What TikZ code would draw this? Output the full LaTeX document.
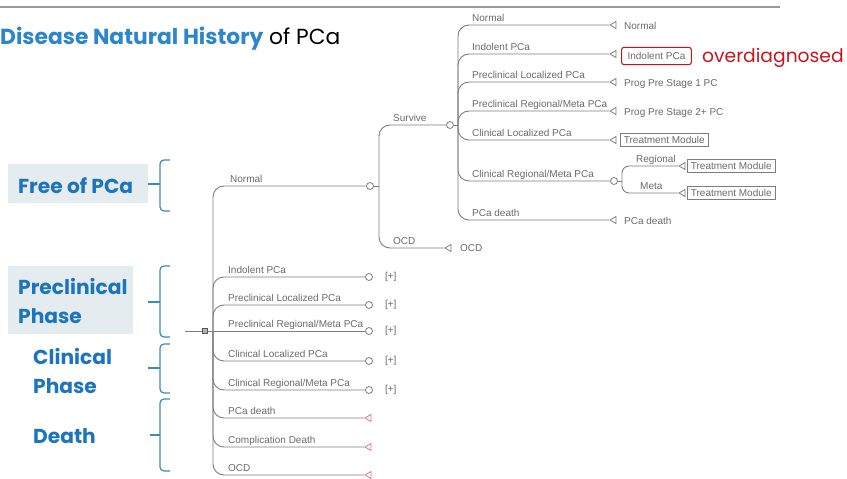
\documentclass[tikz,border=0pt]{standalone}
\usepackage{fontspec}
\setmainfont{Liberation Sans}
\newfontfamily\gfont{Poppins}
\usetikzlibrary{shapes.geometric}

\definecolor{titleblue}{HTML}{2B86CC}
\definecolor{labblue}{HTML}{1C74BC}
\definecolor{boxfill}{HTML}{E4ECEF}
\definecolor{bracecol}{HTML}{3C8CB8}
\definecolor{treeline}{HTML}{7E7E7E}
\definecolor{treetext}{HTML}{6A6A6A}
\definecolor{deathcol}{HTML}{D87890}
\definecolor{overred}{HTML}{C4161C}

\tikzset{
  br/.style={draw=treeline, line width=0.9pt, rounded corners=11pt},
  stem/.style={draw=treeline, line width=0.9pt},
  lbl/.style={anchor=base west, font=\fontsize{10}{11}\selectfont, text=treetext, inner sep=0pt},
  chance/.style={circle, draw=treeline, fill=white, line width=0.8pt, inner sep=0pt, minimum size=7pt},
  term/.style={isosceles triangle, shape border rotate=180, isosceles triangle stretches,
               draw=treeline, fill=white, line width=0.8pt, inner sep=0pt,
               minimum height=6pt, minimum width=7pt},
  deathterm/.style={term, draw=deathcol},
  rootsq/.style={rectangle, draw=treeline!70!black, fill=treeline!60, line width=0.8pt,
                 inner sep=0pt, minimum size=5pt},
  tmbox/.style={draw=treeline, line width=0.8pt, inner xsep=3.5pt, inner ysep=3pt,
                font=\fontsize{10}{11}\selectfont, text=treetext, anchor=west},
  redbox/.style={draw=overred, line width=1.1pt, rounded corners=2.5pt, inner xsep=6pt,
                 inner ysep=5pt, font=\fontsize{10}{11}\selectfont, text=treetext, anchor=west},
  phasebox/.style={fill=boxfill, inner sep=0pt, anchor=north west},
  phasetext/.style={font=\gfont\bfseries\fontsize{20.2}{24}\selectfont, text=labblue,
                    anchor=base west, inner sep=0pt},
  bracket/.style={draw=bracecol, line width=1.2pt, rounded corners=4pt},
  bracetip/.style={draw=bracecol, line width=1.2pt},
}

\begin{document}
\begin{tikzpicture}[x=1pt, y=-1pt]
\useasboundingbox (0,0) rectangle (847,479);

% heading rule and title
\draw[draw=gray!80, line width=1.2pt] (0,7) -- (780,7);
\node[anchor=base west, inner sep=0pt, font=\gfont\fontsize{21.8}{24}\selectfont] (title) at (0,45)
  {{\bfseries\color{titleblue}Disease Natural History} of PCa};

% phase labels on the left
\node[phasebox, minimum width=140pt, minimum height=39pt] (freebox) at (8,164) {};
\node[phasetext] (freetxt) at (18,193) {Free of PCa};
\node[phasebox, minimum width=125pt, minimum height=68pt] (prebox) at (8,266) {};
\node[phasetext] (pretxt1) at (18,294) {Preclinical};
\node[phasetext] (pretxt2) at (18,323) {Phase};
\node[phasetext] (clintxt1) at (33,364) {Clinical};
\node[phasetext] (clintxt2) at (33,393) {Phase};
\node[phasetext] (deathtxt) at (33,443) {Death};

% curly brackets
\draw[bracket] (170,160) -- (160,160) -- (160,211) -- (170,211);
\draw[bracetip] (160,184) -- (148,184);
\draw[bracket] (170,266) -- (160,266) -- (160,337) -- (170,337);
\draw[bracetip] (160,302) -- (148,302);
\draw[bracket] (170,344) -- (160,344) -- (160,393) -- (170,393);
\draw[bracetip] (160,368) -- (148,368);
\draw[bracket] (170,399) -- (160,399) -- (160,471) -- (170,471);
\draw[bracetip] (160,435) -- (150,435);

% ---------- decision tree ----------
\coordinate (start) at (185,331);
\node[rootsq] (root) at (205,331) {};
\coordinate (jroot) at (213,331);
\draw[stem] (start) -- (root);
\draw[stem] (root) -- (jroot);

% first level
\node[chance] (cnormal) at (370,186) {};
\node[chance] (e1) at (369,277) {};
\node[chance] (e2) at (369,305) {};
\node[chance] (e3) at (369,331) {};
\node[chance] (e4) at (369,361) {};
\node[chance] (e5) at (369,390) {};
\node[deathterm] (d1) at (369,418) {};
\node[deathterm] (d2) at (369,447) {};
\node[deathterm] (d3) at (369,475) {};

\foreach \n in {cnormal,e1,e2,e4,e5,d1,d2,d3}
  \draw[br] (jroot) |- (\n);
\draw[stem] (jroot) -- (e3);

\node[lbl] (l0) at (230,182) {Normal};
\node[lbl] (l1) at (228,273) {Indolent PCa};
\node[lbl] (l2) at (228,301) {Preclinical Localized PCa};
\node[lbl] (l3) at (228,327) {Preclinical Regional/Meta PCa};
\node[lbl] (l4) at (228,357) {Clinical Localized PCa};
\node[lbl] (l5) at (228,386) {Clinical Regional/Meta PCa};
\node[lbl] (l6) at (228,414) {PCa death};
\node[lbl] (l7) at (228,443) {Complication Death};
\node[lbl] (l8) at (228,471) {OCD};

\foreach \n/\k in {e1/1,e2/2,e3/3,e4/4,e5/5}
  \node[lbl, anchor=west] (plus\k) at ([xshift=12pt]\n.east) {[+]};

% survive / other-cause death
\node[chance] (csurv) at (450,125) {};
\node[term] (tocd) at (449,248) {};
\coordinate (jnormal) at (379,186);
\draw[stem] (cnormal) -- (jnormal);
\draw[br] (jnormal) |- (csurv);
\draw[br] (jnormal) |- (tocd);
\node[lbl] (lsurv) at (393,121) {Survive};
\node[lbl] (locd) at (393,244) {OCD};
\node[lbl, anchor=west] (xocd) at (460,248) {OCD};

% survivor outcomes
\node[term] (t1) at (614,25) {};
\node[term] (t2) at (614,54) {};
\node[term] (t3) at (614,82) {};
\node[term] (t4) at (614,111) {};
\node[term] (t5) at (614,140) {};
\node[chance] (creg) at (614,181) {};
\node[term] (t7) at (614,220) {};
\coordinate (jsurv) at (458,125);
\draw[stem] (csurv) -- (jsurv);
\foreach \n in {t1,t2,t3,t4,t5,creg,t7}
  \draw[br] (jsurv) |- (\n);

\node[lbl] (s1) at (472,21) {Normal};
\node[lbl] (s2) at (472,50) {Indolent PCa};
\node[lbl] (s3) at (472,78) {Preclinical Localized PCa};
\node[lbl] (s4) at (472,107) {Preclinical Regional/Meta PCa};
\node[lbl] (s5) at (472,136) {Clinical Localized PCa};
\node[lbl] (s6) at (472,177) {Clinical Regional/Meta PCa};
\node[lbl] (s7) at (472,216) {PCa death};

\node[lbl, anchor=west] (o1) at (624,26) {Normal};
\node[redbox] (o2) at (621,56) {Indolent PCa};
\node[anchor=base west, inner sep=0pt, text=overred, font=\gfont\fontsize{18.7}{22}\selectfont]
  (over) at (702,62) {overdiagnosed};
\node[lbl, anchor=west] (o3) at (624,84) {Prog Pre Stage 1 PC};
\node[lbl, anchor=west] (o4) at (624,113) {Prog Pre Stage 2+ PC};
\node[tmbox] (o5) at (620,140) {Treatment Module};
\node[lbl, anchor=west] (o7) at (624,221) {PCa death};

% regional / metastatic split
\node[term] (tr) at (683,166) {};
\node[term] (tm) at (683,193) {};
\coordinate (jreg) at (622,181);
\draw[stem] (creg) -- (jreg);
\draw[br, rounded corners=7pt] (jreg) |- (tr);
\draw[br, rounded corners=7pt] (jreg) |- (tm);
\node[lbl] (lreg) at (636,162) {Regional};
\node[lbl] (lmeta) at (640,189) {Meta};
\node[tmbox] (or) at (687,166) {Treatment Module};
\node[tmbox] (om) at (687,193) {Treatment Module};
\end{tikzpicture}
\end{document}
